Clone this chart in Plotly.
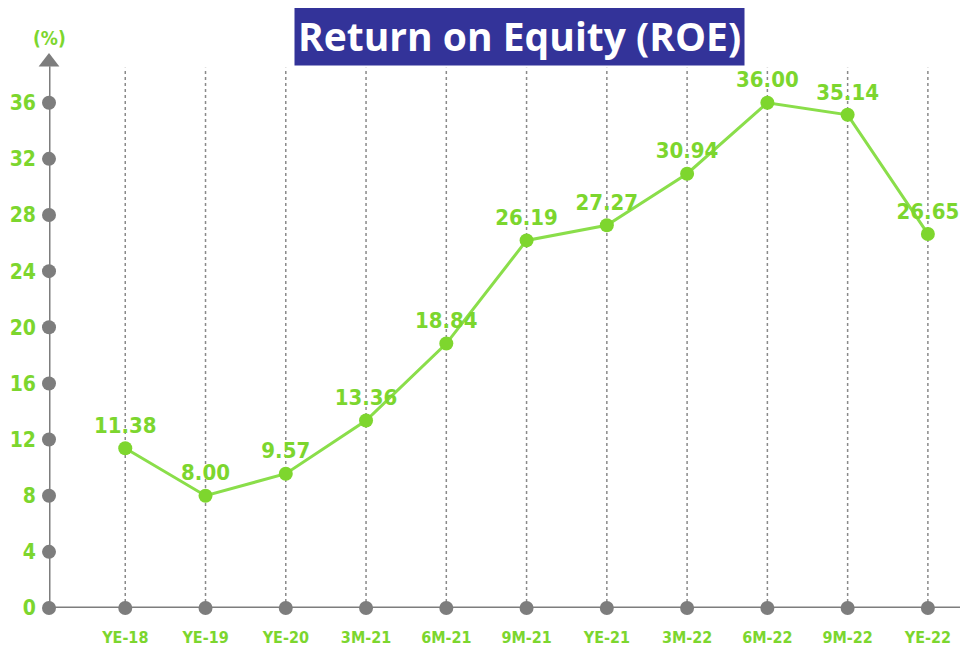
import plotly.graph_objects as go

categories = ["YE-18", "YE-19", "YE-20", "3M-21", "6M-21", "9M-21", "YE-21", "3M-22", "6M-22", "9M-22", "YE-22"]
roe = [11.38, 8.00, 9.57, 13.36, 18.84, 26.19, 27.27, 30.94, 36.00, 35.14, 26.65]
y_ticks = [0, 4, 8, 12, 16, 20, 24, 28, 32, 36]

GREEN_TXT = "#7cd62e"
GREEN_LINE = "#8ade4a"
GRAY = "#7d7d7d"
FONT = "DejaVu Sans Condensed, Liberation Sans Narrow, sans-serif"

xs = list(range(len(categories)))
x_axis = -0.95
x_end = 10.4
y_top = 39.4

fig = go.Figure()

for x in xs:
    fig.add_shape(type="line", x0=x, x1=x, y0=0, y1=38.5, xref="x", yref="y",
                  line=dict(color="#8a8a8a", width=1.5, dash="dot"), layer="below")

fig.add_shape(type="line", x0=x_axis, x1=x_end, y0=0, y1=0, line=dict(color=GRAY, width=3), layer="below")
fig.add_shape(type="line", x0=x_axis, x1=x_axis, y0=0, y1=38.6, line=dict(color=GRAY, width=3), layer="below")

fig.add_trace(go.Scatter(x=[x_axis], y=[38.9], mode="markers",
                         marker=dict(symbol="triangle-up", size=18, color=GRAY),
                         hoverinfo="skip", showlegend=False, cliponaxis=False))

fig.add_trace(go.Scatter(x=[x_axis] * len(y_ticks), y=y_ticks, mode="markers",
                         marker=dict(size=14, color=GRAY), hoverinfo="skip",
                         showlegend=False, cliponaxis=False))
fig.add_trace(go.Scatter(x=xs, y=[0] * len(xs), mode="markers",
                         marker=dict(size=14, color=GRAY), hoverinfo="skip",
                         showlegend=False, cliponaxis=False))

fig.add_trace(go.Scatter(x=xs, y=roe, mode="lines+markers+text",
                         line=dict(color=GREEN_LINE, width=3),
                         marker=dict(size=14, color="#7ed62e"),
                         text=[f"{v:.2f}" for v in roe], textposition="top center",
                         textfont=dict(family=FONT, size=22, color=GREEN_TXT, weight="bold"),
                         showlegend=False, cliponaxis=False))

fig.update_xaxes(range=[x_axis, x_end], tickmode="array", tickvals=xs, ticktext=categories,
                 showgrid=False, zeroline=False, showline=False, ticks="",
                 ticklabelstandoff=18, automargin=False,
                 tickfont=dict(family=FONT, size=16, color=GREEN_TXT, weight="bold"))
fig.update_yaxes(range=[0, y_top], tickmode="array", tickvals=y_ticks,
                 ticktext=[str(t) for t in y_ticks],
                 showgrid=False, zeroline=False, showline=False, ticks="",
                 ticklabelstandoff=12, automargin=False,
                 tickfont=dict(family=FONT, size=21, color=GREEN_TXT, weight="bold"))

fig.add_annotation(text="<b>Return on Equity (ROE)</b>", xref="paper", yref="paper",
                   x=0.516, y=1.036, xanchor="center", yanchor="middle", showarrow=False,
                   font=dict(family="Open Sans, Noto Sans, sans-serif", size=39, color="white"),
                   bgcolor="#333399", borderpad=3)
fig.add_annotation(text="<b>(%)</b>", xref="paper", yref="paper",
                   x=0.0, y=1.03, xanchor="center", yanchor="middle", showarrow=False,
                   font=dict(family=FONT, size=19, color=GREEN_TXT))

# page body has an 8px default margin; compensate so the plot lands where the reference has it
fig.update_layout(width=979, height=649, margin=dict(l=41, r=27, t=47, b=49, autoexpand=False),
                  plot_bgcolor="white", paper_bgcolor="white")

fig.write_html("out.html")
